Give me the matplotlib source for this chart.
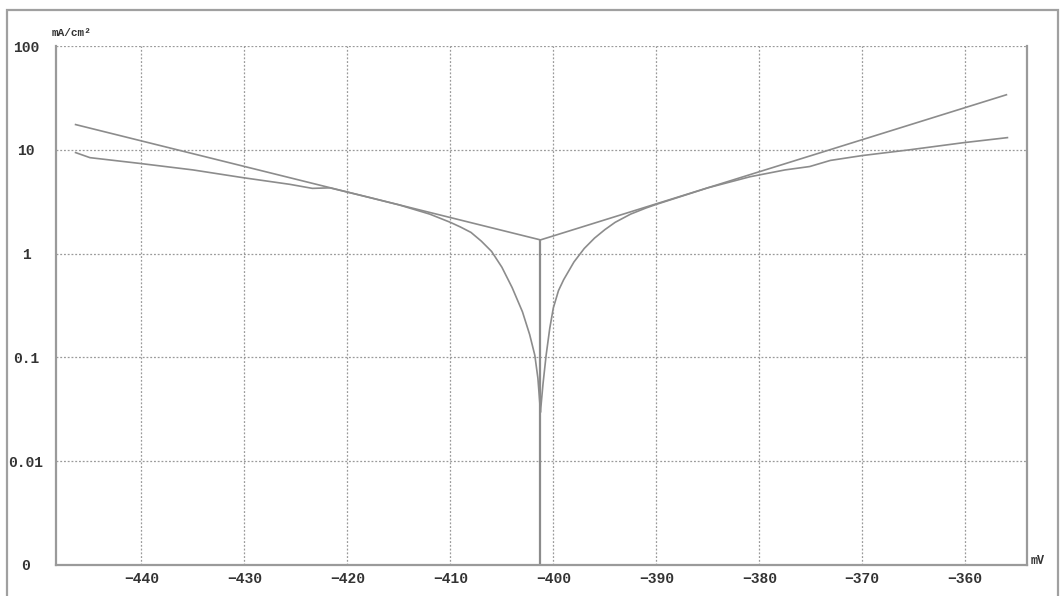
# Tafel plot: polarisation curve with extrapolated Tafel lines
import matplotlib
matplotlib.use('Agg')
import matplotlib.pyplot as plt
from matplotlib.patches import Rectangle

# measured curve, cathodic side (mV, mA/cm2)
e_cath = [-446.4, -445.0, -440.2, -435.0, -430.2, -425.6, -423.4, -421.7, -418.0,
          -415.0, -412.0, -410.0, -409.0, -408.0, -407.0, -406.0, -405.0, -404.0,
          -403.0, -402.3, -401.8, -401.5, -401.25]
i_cath = [9.4, 8.4, 7.4, 6.4, 5.4, 4.65, 4.25, 4.3, 3.5,
          2.95, 2.4, 2.0, 1.8, 1.6, 1.32, 1.05, 0.74, 0.47,
          0.275, 0.166, 0.105, 0.063, 0.03]

# measured curve, anodic side
e_anod = [-401.25, -401.0, -400.7, -400.35, -400.0, -399.5, -399.0, -398.0,
          -397.0, -396.0, -395.0, -394.0, -392.5, -391.0, -390.0, -385.0,
          -380.9, -377.5, -375.1, -373.1, -370.0, -365.4, -360.2, -355.9]
i_anod = [0.03, 0.056, 0.105, 0.19, 0.30, 0.44, 0.56, 0.83,
          1.12, 1.41, 1.70, 2.0, 2.4, 2.75, 2.98, 4.3,
          5.5, 6.4, 6.9, 7.9, 8.8, 10.0, 11.7, 13.1]

# Tafel lines meeting at the corrosion point
e_tafel = [-446.4, -401.25, -356.0]
i_tafel = [17.5, 1.355, 33.9]
e_corr = -401.25
i_corr = 1.355

xticks = [-440, -430, -420, -410, -400, -390, -380, -370, -360]
yticks = [0.001, 0.01, 0.1, 1, 10, 100]
ylabels = ['0', '0.01', '0.1', '1', '10', '100']

font = 'Liberation Mono'
grey = '#8c8c8c'

fig = plt.figure(figsize=(10.61, 5.96), dpi=100)
ax = fig.add_axes([56/1061, 31/596, 971/1061, 519/596])

ax.plot(e_cath, i_cath, color=grey, lw=1.2)
ax.plot(e_anod, i_anod, color=grey, lw=1.2)
ax.plot(e_tafel, i_tafel, color=grey, lw=1.2)
ax.vlines(e_corr, 0.001, i_corr, color=grey, lw=1.6)

ax.set_yscale('log')
ax.set_xlim(-448.3, -354.0)
ax.set_ylim(0.001, 100)
ax.set_xticks(xticks)
ax.set_xticklabels([str(x).replace('-', '\u2212') for x in xticks])
ax.set_yticks(yticks)
ax.set_yticklabels(ylabels)
ax.yaxis.set_minor_locator(matplotlib.ticker.NullLocator())
ax.tick_params(axis='both', length=0, labelsize=10.5, colors='#333333')
ax.tick_params(axis='x', pad=5)
ax.tick_params(axis='y', pad=21.6)
for lab in ax.get_xticklabels() + ax.get_yticklabels():
    lab.set_fontfamily(font)
    lab.set_fontweight('bold')
for lab in ax.get_yticklabels():
    lab.set_horizontalalignment('center')

ax.grid(True, which='major', color='#9a9a9a', linestyle=(0, (1.5, 1.5)), lw=0.9)
ax.spines['top'].set_visible(False)
for s in ['left', 'bottom', 'right']:
    ax.spines[s].set_color('#9a9a9a')
    ax.spines[s].set_linewidth(1.6)

fig.text(52/1061, 1 - 33/596, 'mA/cm\u00b2', fontsize=8, fontweight='bold',
         family=font, color='#333333', va='center', ha='left')
fig.text(1031/1061, 1 - 561/596, 'mV', fontsize=8.5, fontweight='bold',
         family=font, color='#333333', va='center', ha='left')

# outer frame of the picture
fig.patches.append(Rectangle((7/1061, -0.05), 1051/1061, 1 - 10/596 + 0.05,
                             transform=fig.transFigure, fill=False,
                             edgecolor='#a0a0a0', lw=1.6))

fig.savefig('out.png', dpi=100)
